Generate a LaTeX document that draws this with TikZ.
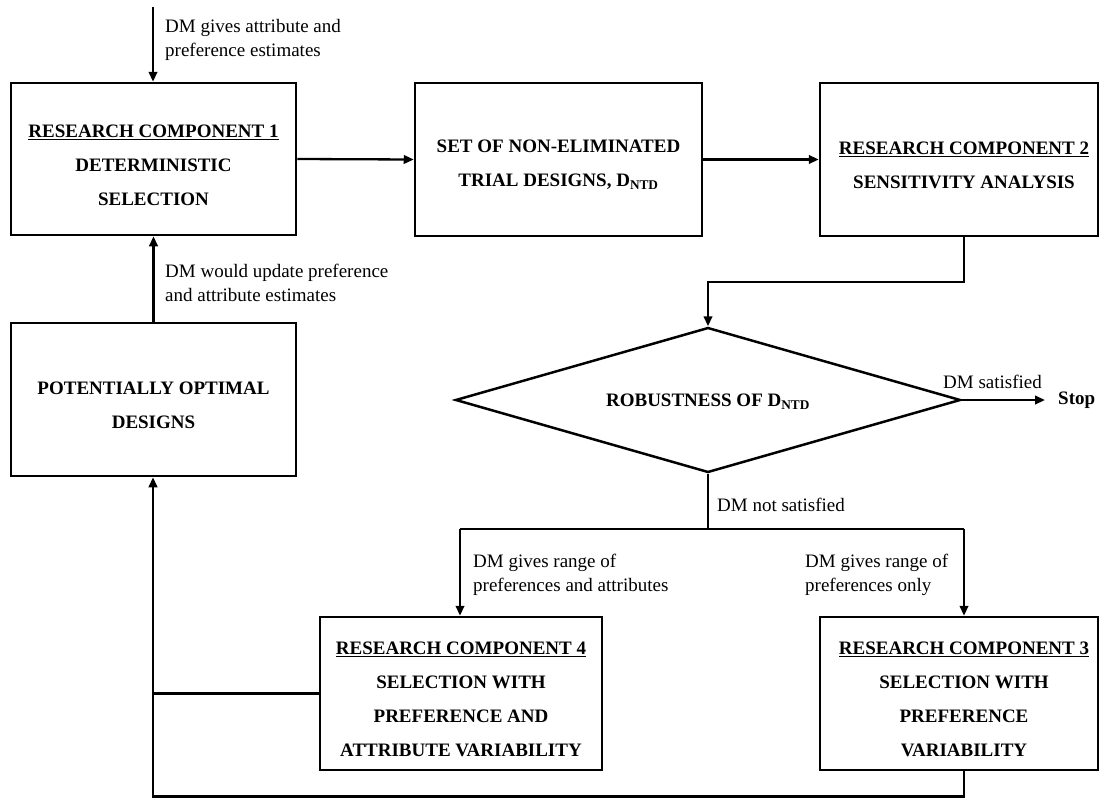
\documentclass[tikz,border=0pt]{standalone}
\usepackage{fontspec}
\setmainfont{Liberation Serif}
\usetikzlibrary{arrows.meta,shapes.geometric}
\begin{document}
\begin{tikzpicture}[x=1pt,y=-1pt,
  box/.style={draw, line width=2.5pt, inner sep=0pt},
  btext/.style={font=\fontsize{19}{34}\selectfont\bfseries, align=center, inner sep=0pt},
  note/.style={font=\fontsize{19}{23.5}\selectfont, align=left, anchor=west, inner sep=0pt},
  link/.style={line width=2.3pt},
  arr/.style={line width=2.3pt, -{Triangle[length=10pt,width=8.5pt]}}]
\useasboundingbox (0,0) rectangle (1103,798);

% boxes of the upper row
\node[box, minimum width=285, minimum height=152] (rc1) at (153.5,159) {};
\node[btext] (rc1t) at (153.5,165) {\underline{RESEARCH COMPONENT 1}\\DETERMINISTIC\\SELECTION};
\node[box, minimum width=287, minimum height=153] (set) at (558.5,159.5) {};
\node[btext] (sett) at (558.5,165) {SET OF NON-ELIMINATED\\TRIAL DESIGNS, D\textsubscript{NTD}};
\node[box, minimum width=278, minimum height=153] (rc2) at (959,159.5) {};
\node[btext] (rc2t) at (964,165) {\underline{RESEARCH COMPONENT 2}\\SENSITIVITY ANALYSIS};

% left box
\node[box, minimum width=285, minimum height=153] (pod) at (153.5,399.5) {};
\node[btext] (podt) at (153.5,405) {POTENTIALLY OPTIMAL\\DESIGNS};

% decision
\node[draw, line width=2.5pt, diamond, aspect=3.45, inner sep=0pt,
      minimum width=505, minimum height=145] (rob) at (708,400) {};
\node[btext] (robt) at (708,402) {ROBUSTNESS OF D\textsubscript{NTD}};
\node[font=\fontsize{19}{22}\selectfont\bfseries, anchor=west, inner sep=0pt] (stop) at (1058,400) {Stop};

% boxes of the lower row
\node[box, minimum width=282, minimum height=153] (rc4) at (461,693.5) {};
\node[btext] (rc4t) at (461,699) {\underline{RESEARCH COMPONENT 4}\\SELECTION WITH\\PREFERENCE AND\\ATTRIBUTE VARIABILITY};
\node[box, minimum width=278, minimum height=153] (rc3) at (959,693.5) {};
\node[btext] (rc3t) at (964,699) {\underline{RESEARCH COMPONENT 3}\\SELECTION WITH\\PREFERENCE\\VARIABILITY};

% labels
\node[note] (l1) at (165,40) {DM gives attribute and\\preference estimates};
\node[note] (l2) at (165,283) {DM would update preference\\and attribute estimates};
\node[note] (l3) at (943,382) {DM satisfied};
\node[note] (l4) at (717,505) {DM not satisfied};
\node[note] (l5) at (473,575) {DM gives range of\\preferences and attributes};
\node[note] (l6) at (805,575) {DM gives range of\\preferences only};

% junction points
\coordinate (in1) at (153,7);
\coordinate (j1) at (964,282);
\coordinate (split) at (708,529);
\coordinate (c4) at (460,529);
\coordinate (c3) at (964,529);
\coordinate (lv) at (153,693.5);
\coordinate (rb) at (964,796.5);
\coordinate (lb) at (153,796.5);

% connectors
\draw[arr] (in1) -- (in1 |- rc1.north);
\draw[arr] (rc1.east) -- (set.west);
\draw[arr] (set.east) -- (rc2.west);
\draw[arr] (j1 |- rc2.south) -- (j1) -| (rob.north);
\draw[arr] (rob.east) -- ([xshift=-13pt]stop.west);
\draw[link] (rob.south) -- (split);
\draw[link] (c4) -- (c3);
\draw[arr] (c4) -- (c4 |- rc4.north);
\draw[arr] (c3) -- (c3 |- rc3.north);
\draw[link] (rc4.west) -- (lv);
\draw[arr] (rb |- rc3.south) -- (rb) -- (lb) -- (lb |- pod.south);
\draw[arr] (pod.north) -- (rc1.south);
\end{tikzpicture}
\end{document}
